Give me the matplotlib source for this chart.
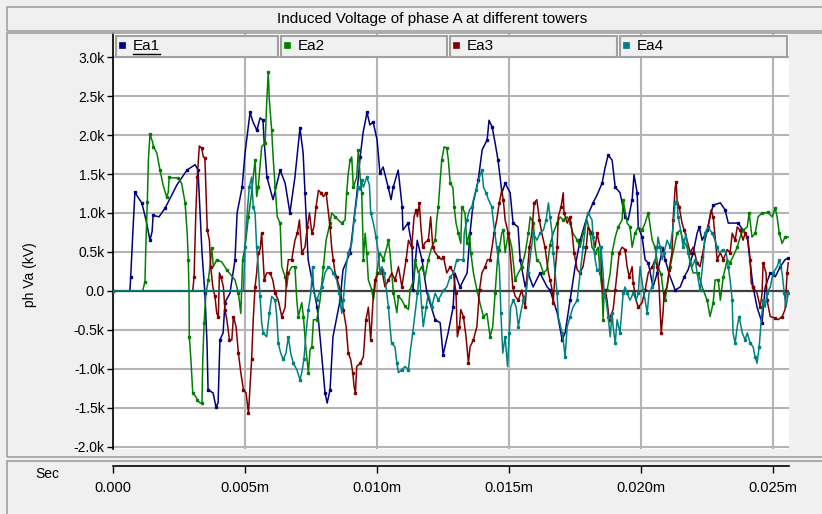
import matplotlib.pyplot as plt
from matplotlib.patches import Rectangle
from matplotlib.lines import Line2D

plt.rcParams['font.family'] = ['Liberation Sans', 'DejaVu Sans']

W, H = 822, 514
OUTPUT_IMAGE = "out.png"

TITLE = "Induced Voltage of phase A at different towers"
Y_LABEL = "ph Va (kV)"
X_UNIT = "Sec"

# time in ms, voltage in kV
EA1_T = [0, 0.64, 0.67, 0.75, 0.83, 0.91, 1.09, 1.25, 1.40, 1.48,
         1.52, 1.74, 1.97, 2.42, 2.80, 3.11, 3.22, 3.37, 3.48, 3.56,
         3.60, 3.79, 3.90, 3.98, 4.05, 4.17, 4.24, 4.43, 4.62, 4.70,
         4.89, 5.00, 5.19, 5.30, 5.45, 5.57, 5.68, 5.72, 5.83, 6.06,
         6.33, 6.52, 6.70, 6.89, 7.08, 7.20, 7.27, 7.39, 7.73, 7.84,
         8.03, 8.11, 8.22, 8.33, 8.60, 8.71, 8.98, 9.24, 9.36, 9.47,
         9.62, 9.73, 9.85, 10.00, 10.11, 10.23, 10.42, 10.53, 10.61, 10.80,
         10.95, 10.98, 11.17, 11.33, 11.36, 11.52, 11.70, 11.89, 12.20, 12.39,
         12.50, 12.69, 12.88, 12.95, 13.14, 13.41, 13.52, 13.64, 13.83, 13.98,
         14.17, 14.24, 14.36, 14.47, 14.58, 14.73, 14.85, 15.04, 15.15, 15.34,
         15.42, 15.61, 15.72, 15.91, 16.17, 16.44, 16.55, 16.82, 17.01, 17.12,
         17.31, 17.50, 17.69, 17.95, 18.18, 18.33, 18.52, 18.64, 18.75, 18.90,
         19.02, 19.20, 19.39, 19.51, 19.66, 19.73, 19.85, 19.89, 20.04, 20.15,
         20.27, 20.45, 20.61, 20.83, 20.91, 21.10, 21.29, 21.48, 21.63, 21.78,
         21.97, 22.12, 22.20, 22.31, 22.50, 22.61, 22.73, 23.00, 23.18, 23.30,
         23.67, 23.86, 24.02, 24.13, 24.24, 24.39, 24.58, 24.70, 24.89, 25.08,
         25.27, 25.45, 25.57]
EA1_V = [0, 0, 0.18, 0.74, 1.27, 1.22, 1.13, 0.91, 0.65, 0.76,
         0.97, 0.95, 1.06, 1.36, 1.55, 1.62, 1.55, 0.49, -0.03, -0.67,
         -1.27, -1.31, -1.49, -1.44, -0.63, -0.54, -0.15, -0.03, 0.40, 1.00,
         1.33, 1.77, 2.29, 2.17, 2.06, 2.22, 2.19, 1.94, 1.46, 1.17,
         1.55, 1.38, 1.00, 1.46, 2.09, 1.77, 1.26, 0.40, -0.21, -0.59,
         -1.31, -1.44, -1.27, -0.59, -0.12, 0.27, 0.49, 1.26, 1.72, 2.03,
         2.29, 2.13, 2.17, 1.94, 1.51, 1.59, 1.33, 1.17, 1.33, 1.55,
         1.08, 0.78, 0.87, 0.56, 0.01, 0.65, 0.40, -0.03, -0.37, -0.41,
         -0.82, -0.54, -0.21, 0.23, 0.05, 0.23, 0.74, 1.13, 1.42, 1.81,
         1.94, 2.19, 2.10, 1.90, 1.68, 1.26, 1.38, 1.26, 0.87, 0.82,
         0.40, 0.05, 0.23, 0.05, 0.23, 0.05, 0.01, -0.28, -0.63, -0.54,
         -0.12, 0.31, 0.65, 0.95, 1.13, 1.23, 1.38, 1.59, 1.74, 1.68,
         1.33, 1.26, 0.95, 0.91, 1.17, 1.49, 1.26, 0.82, 0.69, 0.40,
         0.36, 0.05, 0.23, 0.56, 0.40, 0.18, 0.01, 0.05, 0.18, 0.27,
         0.49, 0.74, 0.82, 0.65, 0.78, 0.95, 1.10, 1.13, 1.04, 0.87,
         0.87, 0.78, 0.69, 0.36, 0.05, -0.21, -0.41, 0.05, 0.23, 0.18,
         0.31, 0.40, 0.42]

EA2_T = [0, 1.125, 1.21, 1.25, 1.30, 1.34, 1.40, 1.50, 1.53, 1.66,
         1.78, 1.91, 2.03, 2.09, 2.13, 2.28, 2.47, 2.60, 2.73, 2.81,
         2.85, 2.88, 2.89, 2.95, 3.02, 3.14, 3.19, 3.30, 3.37, 3.40,
         3.45, 3.52, 3.61, 3.67, 3.74, 3.80, 3.93, 4.12, 4.31, 4.62,
         4.75, 4.84, 4.91, 5.00, 5.13, 5.25, 5.38, 5.44, 5.50, 5.63,
         5.76, 5.82, 5.88, 5.92, 6.01, 6.07, 6.14, 6.22, 6.33, 6.39,
         6.52, 6.58, 6.64, 6.77, 6.89, 6.96, 7.02, 7.15, 7.21, 7.31,
         7.40, 7.46, 7.53, 7.59, 7.72, 7.84, 7.97, 8.07, 8.22, 8.28,
         8.41, 8.53, 8.66, 8.79, 8.85, 8.91, 8.98, 9.04, 9.10, 9.23,
         9.29, 9.36, 9.42, 9.46, 9.48, 9.55, 9.61, 9.67, 9.80, 9.86,
         9.99, 10.11, 10.24, 10.37, 10.43, 10.49, 10.62, 10.75, 10.81, 10.94,
         11.06, 11.19, 11.25, 11.38, 11.44, 11.56, 11.69, 11.82, 11.94, 12.07,
         12.20, 12.26, 12.32, 12.39, 12.45, 12.54, 12.64, 12.70, 12.77, 12.87,
         12.92, 12.99, 13.08, 13.17, 13.21, 13.33, 13.40, 13.50, 13.55, 13.65,
         13.78, 13.90, 14.03, 14.16, 14.28, 14.38, 14.47, 14.56, 14.63, 14.72,
         14.78, 14.85, 14.97, 15.10, 15.23, 15.35, 15.48, 15.61, 15.73, 15.80,
         15.92, 15.98, 16.05, 16.17, 16.30, 16.43, 16.55, 16.67, 16.82, 16.93,
         17.05, 17.20, 17.31, 17.42, 17.58, 17.69, 17.80, 17.95, 18.07, 18.14,
         18.26, 18.37, 18.45, 18.52, 18.56, 18.60, 18.71, 18.83, 18.90, 19.02,
         19.13, 19.28, 19.32, 19.47, 19.58, 19.66, 19.77, 19.89, 20.04, 20.15,
         20.27, 20.42, 20.53, 20.64, 20.76, 20.83, 20.91, 20.98, 21.10, 21.21,
         21.36, 21.48, 21.59, 21.74, 21.86, 21.97, 22.16, 22.31, 22.50, 22.61,
         22.73, 22.80, 22.92, 23.00, 23.11, 23.26, 23.37, 23.48, 23.64, 23.75,
         23.86, 24.02, 24.09, 24.20, 24.32, 24.43, 24.58, 24.70, 24.81, 24.96,
         25.08, 25.15, 25.23, 25.34, 25.45, 25.57]
EA2_V = [0, 0, 0.12, 0.65, 1.14, 1.68, 2.01, 1.91, 1.85, 1.77,
         1.55, 1.34, 1.21, 1.26, 1.46, 1.45, 1.45, 1.38, 1.13, 0.74,
         0.40, -0.03, -0.59, -0.88, -1.31, -1.36, -1.40, -1.44, -1.44, -0.88,
         -0.41, -0.03, 0.14, 0.31, 0.55, 0.31, 0.40, 0.37, 0.27, 0.14,
         -0.03, -0.29, 0.40, 0.56, 0.95, 1.26, 1.68, 1.21, 1.33, 1.85,
         1.90, 2.41, 2.81, 2.45, 2.06, 1.68, 1.33, 0.95, 0.87, 0.31,
         0.18, 0.05, 0.23, 0.31, 0.31, -0.12, -0.33, -0.15, -0.33, -0.76,
         -1.05, -0.76, -0.72, -0.37, -0.37, -0.12, 0.31, 0.65, 0.87, 1.00,
         0.95, 0.91, 0.87, 0.91, 1.26, 1.51, 1.68, 1.72, 1.33, 1.46,
         1.81, 1.46, 1.26, 0.74, 0.40, 0.74, 0.49, 0.14, 0.01, -0.12,
         0.23, 0.49, 0.40, 0.56, 0.65, 0.49, -0.03, -0.28, -0.07, -0.12,
         -0.20, -0.24, 0.01, 0.14, 0.40, 0.23, 0.31, 0.18, 0.40, 0.56,
         0.65, 0.91, 1.08, 1.42, 1.68, 1.85, 1.83, 1.68, 1.38, 1.33,
         1.08, 0.87, 0.74, 0.61, 1.08, 1.00, 0.61, 0.74, 0.49, 0.23,
         0.01, -0.16, -0.33, -0.29, -0.59, -0.46, -0.03, 0.40, 0.53, 0.74,
         0.78, 0.49, 0.74, 0.56, 0.14, 0.23, 0.31, 0.49, 0.74, 0.95,
         0.87, 0.56, 0.40, 0.36, 0.23, 0.27, 0.59, 0.74, 0.87, 0.95,
         0.91, 0.95, 0.87, 0.74, 0.65, 0.56, 0.74, 0.91, 0.74, 0.56,
         0.49, 0.56, 0.23, 0.01, -0.37, 0.01, 0.01, 0.23, 0.49, 0.69,
         0.82, 0.91, 1.17, 0.87, 0.82, 0.56, 0.74, 0.82, 0.78, 0.87,
         1.00, 0.65, 0.56, 0.31, 0.21, 0.01, -0.12, 0.05, 0.31, 0.49,
         0.74, 0.78, 0.65, 0.56, 0.36, 0.23, 0.23, 0.05, -0.12, -0.33,
         -0.15, 0.14, 0.14, -0.12, 0.18, 0.40, 0.36, 0.44, 0.56, 0.69,
         0.78, 0.82, 1.00, 0.69, 0.74, 0.95, 1.00, 1.00, 1.01, 0.95,
         1.06, 0.95, 0.74, 0.61, 0.69, 0.69]

EA3_T = [0, 3.02, 3.07, 3.14, 3.19, 3.27, 3.36, 3.42, 3.48, 3.52,
         3.57, 3.65, 3.70, 3.78, 3.86, 3.93, 3.99, 4.03, 4.09, 4.18,
         4.24, 4.31, 4.41, 4.50, 4.56, 4.66, 4.75, 4.84, 4.94, 5.04,
         5.13, 5.19, 5.25, 5.31, 5.38, 5.44, 5.50, 5.57, 5.63, 5.67,
         5.73, 5.82, 5.95, 6.05, 6.14, 6.26, 6.39, 6.52, 6.58, 6.64,
         6.77, 6.89, 6.98, 7.06, 7.15, 7.27, 7.36, 7.44, 7.53, 7.61,
         7.69, 7.78, 7.87, 7.97, 8.07, 8.16, 8.22, 8.28, 8.34, 8.41,
         8.47, 8.60, 8.72, 8.83, 8.91, 9.00, 9.08, 9.13, 9.18, 9.23,
         9.36, 9.48, 9.58, 9.67, 9.76, 9.84, 9.92, 10.05, 10.18, 10.30,
         10.43, 10.56, 10.68, 10.81, 10.94, 11.02, 11.10, 11.19, 11.31, 11.40,
         11.48, 11.53, 11.60, 11.66, 11.73, 11.82, 11.94, 12.03, 12.11, 12.20,
         12.32, 12.45, 12.51, 12.64, 12.77, 12.89, 12.99, 13.04, 13.12, 13.17,
         13.27, 13.37, 13.46, 13.52, 13.65, 13.78, 13.88, 13.97, 14.09, 14.18,
         14.28, 14.34, 14.43, 14.53, 14.63, 14.72, 14.78, 14.85, 14.97, 15.06,
         15.14, 15.23, 15.35, 15.48, 15.61, 15.69, 15.77, 15.86, 15.95, 16.05,
         16.15, 16.24, 16.36, 16.49, 16.55, 16.63, 16.67, 16.74, 16.82, 16.86,
         16.97, 17.05, 17.08, 17.20, 17.31, 17.39, 17.46, 17.58, 17.69, 17.80,
         17.92, 17.99, 18.14, 18.26, 18.33, 18.45, 18.52, 18.56, 18.64, 18.71,
         18.79, 18.94, 19.02, 19.09, 19.17, 19.28, 19.39, 19.47, 19.55, 19.66,
         19.70, 19.81, 19.89, 20.04, 20.15, 20.27, 20.42, 20.53, 20.61, 20.68,
         20.76, 20.83, 20.87, 20.98, 21.06, 21.17, 21.21, 21.29, 21.33, 21.36,
         21.44, 21.55, 21.63, 21.74, 21.86, 21.97, 22.12, 22.23, 22.31, 22.42,
         22.54, 22.65, 22.73, 22.80, 22.88, 23.00, 23.11, 23.26, 23.37, 23.45,
         23.56, 23.64, 23.75, 23.86, 23.94, 24.05, 24.13, 24.17, 24.24, 24.39,
         24.51, 24.58, 24.62, 24.73, 24.77, 24.89, 25.08, 25.19, 25.34, 25.45,
         25.53, 25.57]
EA3_V = [0, 0, 0.18, 1.04, 1.46, 1.86, 1.83, 1.72, 1.71, 1.29,
         0.78, 0.65, 0.31, 0.05, -0.07, -0.29, -0.33, 0.23, 0.18, 0.05,
         -0.24, -0.37, -0.63, -0.63, -0.33, -0.46, -0.80, -1.05, -1.27, -1.31,
         -1.57, -1.23, -0.88, -0.37, 0.05, 0.23, 0.49, 0.53, 0.74, 0.49,
         0.14, 0.23, 0.23, 0.14, -0.03, -0.12, -0.33, -0.21, 0.23, 0.40,
         0.40, 0.65, 0.74, 0.91, 0.49, 0.56, 0.82, 1.00, 0.74, 0.82,
         1.08, 1.29, 1.26, 1.21, 1.26, 1.00, 0.82, 0.56, 0.40, 0.23,
         0.18, 0.01, -0.24, -0.46, -0.80, -0.88, -1.05, -1.23, -1.31, -0.97,
         -0.93, -0.85, -0.37, -0.21, -0.63, -0.16, 0.14, 0.23, 0.27, 0.05,
         0.14, 0.23, 0.14, 0.31, 0.05, 0.23, 0.40, 0.65, 0.56, 0.95,
         1.04, 0.95, 1.13, 0.82, 0.56, 0.62, 0.65, 0.95, 0.56, 0.49,
         0.44, 0.40, 0.44, 0.23, 0.31, 0.23, -0.03, -0.59, -0.46, -0.24,
         -0.33, -0.59, -0.93, -0.72, -0.63, -0.46, 0.01, 0.23, 0.31, 0.40,
         0.40, 0.53, 0.74, 0.91, 1.13, 1.29, 1.17, 0.91, 0.74, 0.40,
         0.05, -0.07, -0.12, 0.01, -0.21, 0.23, 0.56, 0.74, 1.13, 1.17,
         0.91, 0.74, 0.56, 0.23, 0.14, 0.01, -0.16, 0.23, 0.56, 0.95,
         1.08, 1.26, 1.00, 0.87, 0.95, 0.74, 0.49, 0.27, 0.23, 0.31,
         0.56, 0.82, 0.74, 0.56, 0.74, 0.56, 0.14, -0.03, 0.01, -0.12,
         -0.37, -0.24, 0.01, 0.23, 0.49, 0.56, 0.53, 0.31, 0.18, 0.31,
         0.10, -0.12, -0.21, -0.15, 0.01, 0.23, 0.31, 0.40, 0.31, 0.05,
         -0.54, -0.28, -0.03, 0.05, 0.27, 0.49, 0.91, 1.33, 1.40, 1.17,
         1.08, 0.87, 0.78, 0.65, 0.49, 0.56, 0.36, 0.31, 0.44, 0.65,
         0.82, 1.04, 0.95, 0.69, 0.40, 0.49, 0.40, 0.53, 0.49, 0.74,
         0.65, 0.82, 0.78, 0.65, 0.74, 0.65, 0.40, 0.10, 0.05, -0.03,
         -0.21, -0.03, 0.36, 0.23, -0.12, -0.33, -0.35, -0.37, -0.33, -0.24,
         0.23, 0.36]

EA4_T = [0, 4.94, 5.00, 5.09, 5.16, 5.25, 5.31, 5.38, 5.44, 5.50,
         5.57, 5.63, 5.69, 5.82, 5.92, 6.01, 6.14, 6.20, 6.26, 6.35,
         6.45, 6.55, 6.64, 6.73, 6.83, 6.96, 7.08, 7.15, 7.23, 7.31,
         7.40, 7.49, 7.56, 7.61, 7.72, 7.81, 7.91, 8.03, 8.16, 8.28,
         8.34, 8.47, 8.57, 8.66, 8.72, 8.83, 8.91, 9.04, 9.13, 9.23,
         9.29, 9.36, 9.42, 9.48, 9.61, 9.71, 9.76, 9.86, 9.96, 10.05,
         10.11, 10.18, 10.27, 10.34, 10.43, 10.49, 10.55, 10.68, 10.75, 10.81,
         10.94, 11.06, 11.19, 11.25, 11.35, 11.44, 11.53, 11.60, 11.69, 11.75,
         11.86, 11.94, 12.07, 12.20, 12.32, 12.45, 12.54, 12.64, 12.77, 12.89,
         13.02, 13.14, 13.27, 13.30, 13.40, 13.50, 13.59, 13.65, 13.75, 13.84,
         13.97, 14.03, 14.13, 14.22, 14.34, 14.43, 14.53, 14.63, 14.69, 14.76,
         14.85, 14.94, 15.01, 15.06, 15.16, 15.27, 15.35, 15.44, 15.54, 15.64,
         15.73, 15.82, 15.92, 16.05, 16.17, 16.30, 16.40, 16.49, 16.55, 16.63,
         16.67, 16.74, 16.82, 16.86, 17.01, 17.08, 17.12, 17.20, 17.31, 17.42,
         17.58, 17.69, 17.80, 17.92, 17.99, 18.14, 18.18, 18.26, 18.33, 18.41,
         18.48, 18.56, 18.60, 18.67, 18.75, 18.83, 18.90, 18.94, 19.02, 19.09,
         19.20, 19.28, 19.32, 19.39, 19.47, 19.58, 19.70, 19.81, 19.89, 19.96,
         20.08, 20.15, 20.23, 20.30, 20.42, 20.49, 20.61, 20.64, 20.72, 20.80,
         20.87, 20.98, 21.10, 21.21, 21.29, 21.36, 21.40, 21.52, 21.59, 21.70,
         21.78, 21.93, 22.05, 22.12, 22.23, 22.35, 22.42, 22.54, 22.69, 22.80,
         22.88, 22.95, 23.11, 23.22, 23.30, 23.37, 23.45, 23.48, 23.56, 23.64,
         23.71, 23.83, 23.94, 24.02, 24.13, 24.24, 24.32, 24.39, 24.47, 24.55,
         24.62, 24.70, 24.77, 24.89, 25.00, 25.15, 25.23, 25.34, 25.42, 25.49,
         25.57]
EA4_V = [0, 0, 0.56, 1.04, 1.33, 1.46, 1.08, 1.00, 0.56, 0.31,
         -0.07, -0.41, -0.54, -0.59, -0.29, -0.07, -0.12, -0.33, -0.67, -0.80,
         -0.88, -0.80, -0.59, -0.80, -0.93, -1.01, -1.14, -1.05, -0.88, -0.54,
         -0.24, -0.03, 0.31, -0.03, -0.12, -0.03, 0.05, 0.23, 0.31, 0.27,
         0.23, 0.14, -0.03, -0.29, -0.12, 0.31, 0.49, 0.61, 0.91, 1.17,
         1.33, 1.29, 1.42, 1.33, 1.46, 1.36, 1.00, 0.87, 0.69, 0.49,
         0.23, 0.31, 0.23, 0.05, -0.21, -0.46, -0.67, -0.72, -0.93, -1.05,
         -1.01, -0.97, -1.01, -0.80, -0.54, -0.28, -0.03, 0.23, -0.21, -0.46,
         -0.21, -0.03, -0.21, -0.03, -0.12, -0.03, 0.01, 0.05, 0.18, 0.23,
         0.40, 0.40, 0.40, 0.74, 0.91, 1.04, 1.08, 1.17, 1.29, 1.42,
         1.55, 1.33, 1.26, 1.17, 1.08, 0.82, 0.56, 0.31, -0.28, -0.80,
         -0.59, -0.97, -0.54, -0.21, -0.12, -0.21, -0.46, -0.28, -0.12, -0.03,
         0.23, 0.49, 0.74, 0.65, 0.74, 0.78, 0.91, 1.13, 0.95, 0.74,
         0.49, 0.23, -0.03, -0.33, -0.54, -0.72, -0.85, -0.46, -0.33, -0.21,
         -0.12, 0.23, 0.56, 0.91, 1.00, 0.91, 0.69, 0.40, 0.27, 0.27,
         0.56, 0.23, -0.03, -0.12, -0.33, -0.59, -0.28, -0.46, -0.67, -0.37,
         -0.54, -0.21, -0.03, 0.05, -0.03, -0.12, -0.03, -0.12, -0.03, 0.31,
         0.01, -0.12, -0.28, -0.03, 0.05, 0.31, 0.56, 0.69, 0.56, 0.40,
         0.49, 0.65, 0.56, 0.82, 1.13, 1.17, 0.95, 0.74, 0.56, 0.74,
         0.49, 0.31, 0.40, 0.23, 0.01, 0.40, 0.74, 0.82, 0.74, 0.65,
         0.56, 0.49, 0.53, 0.49, 0.31, 0.14, -0.12, -0.54, -0.67, -0.46,
         -0.33, -0.54, -0.63, -0.54, -0.67, -0.72, -0.85, -0.93, -0.72, -0.37,
         -0.12, -0.21, -0.03, 0.05, 0.23, 0.31, 0.40, 0.23, -0.03, -0.21,
         -0.03]

SERIES_NAMES = ["Ea1", "Ea2", "Ea3", "Ea4"]
SERIES_COLORS = ["#000080", "#008000", "#800000", "#008080"]

X_TICKS = [0, 5, 10, 15, 20, 25]
X_TICK_LABELS = ["0.000", "0.005m", "0.010m", "0.015m", "0.020m", "0.025m"]
Y_TICKS = [3.0, 2.5, 2.0, 1.5, 1.0, 0.5, 0.0, -0.5, -1.0, -1.5, -2.0]
Y_TICK_LABELS = ["3.0k", "2.5k", "2.0k", "1.5k", "1.0k", "0.5k", "0.0",
                 "-0.5k", "-1.0k", "-1.5k", "-2.0k"]

BG = "#f0f0f0"
EDGE = "#a0a0a0"


def px_rect(x0, y0, x1, y1):
    # pixel box (top-left origin) -> figure fraction [l, b, w, h]
    return [x0 / W, 1 - y1 / H, (x1 - x0) / W, (y1 - y0) / H]


def frame(fig, x0, y0, x1, y1, face=None, lw=1.2):
    l, b, w, h = px_rect(x0, y0, x1, y1)
    fig.patches.append(Rectangle((l, b), w, h, transform=fig.transFigure,
                                 facecolor=face if face else "none",
                                 edgecolor=EDGE, lw=lw, zorder=5))


def main():
    series = [(EA1_T, EA1_V), (EA2_T, EA2_V), (EA3_T, EA3_V), (EA4_T, EA4_V)]

    fig = plt.figure(figsize=(W / 100, H / 100), dpi=100)
    fig.patch.set_facecolor(BG)

    # panel frames
    frame(fig, 7, 7, 830, 31)
    frame(fig, 7, 33, 830, 457)
    frame(fig, 7, 461, 830, 520)
    fig.text(432 / W, 1 - 19 / H, TITLE, ha="center", va="center", fontsize=11)

    # main plot
    ax = fig.add_axes(px_rect(113, 33, 789, 449))
    ax.set_facecolor("white")
    ax.set_xlim(0, 25.6)
    ax.set_ylim(-2.03, 3.31)
    ax.set_xticks(X_TICKS)
    ax.set_yticks(Y_TICKS)
    ax.set_yticklabels(Y_TICK_LABELS)
    ax.tick_params(axis="x", length=0, labelbottom=False)
    ax.tick_params(axis="y", direction="out", length=4, width=1, labelsize=10, pad=2)
    ax.grid(True, color="#b4b4b4", lw=1.5)
    ax.set_axisbelow(True)
    for s in ["top", "right", "bottom"]:
        ax.spines[s].set_visible(False)
    ax.spines["left"].set_color("black")
    ax.spines["left"].set_linewidth(1.2)
    ax.axhline(0, color="#404040", lw=1.6, zorder=1.5)

    for (t, v), c in zip(series, SERIES_COLORS):
        ax.plot(t, v, color=c, lw=1.1, marker="s", ms=1.7, mec=c, mfc=c,
                markevery=2, zorder=3)

    fig.text(30 / W, 1 - 275 / H, Y_LABEL, rotation=90, ha="center", va="center", fontsize=10)

    # legend buttons
    boxes = [(116, 278), (281, 447), (450, 617), (620, 787)]
    for (x0, x1), name, c in zip(boxes, SERIES_NAMES, SERIES_COLORS):
        frame(fig, x0, 36, x1, 57, face=BG, lw=1.5)
        l, b, w, h = px_rect(x0 + 3, 42, x0 + 9, 48)
        fig.patches.append(Rectangle((l, b), w, h, transform=fig.transFigure,
                                     facecolor=c, edgecolor=c, lw=0.5, zorder=6))
        fig.text((x0 + 17) / W, 1 - 46 / H, name, ha="left", va="center",
                 fontsize=11, zorder=7)
    # first entry is underlined (selected)
    fig.lines.append(Line2D([133 / W, 160 / W], [1 - 54 / H, 1 - 54 / H],
                            transform=fig.transFigure, color="black", lw=1, zorder=7))

    # time axis panel
    ax2 = fig.add_axes([113 / W, 1 - 465.5 / H, 676 / W, 0.0001])
    ax2.set_facecolor("none")
    ax2.set_xlim(0, 25.6)
    ax2.set_xticks(X_TICKS)
    ax2.set_xticklabels(X_TICK_LABELS)
    ax2.set_yticks([])
    for s in ["top", "right", "left"]:
        ax2.spines[s].set_visible(False)
    ax2.spines["bottom"].set_linewidth(1.2)
    ax2.tick_params(axis="x", direction="out", length=5, width=1, labelsize=10.5, pad=6)
    fig.text(47 / W, 1 - 474 / H, X_UNIT, ha="center", va="center", fontsize=10)

    fig.savefig(OUTPUT_IMAGE, dpi=100, facecolor=BG)
    plt.close(fig)


if __name__ == "__main__":
    main()
